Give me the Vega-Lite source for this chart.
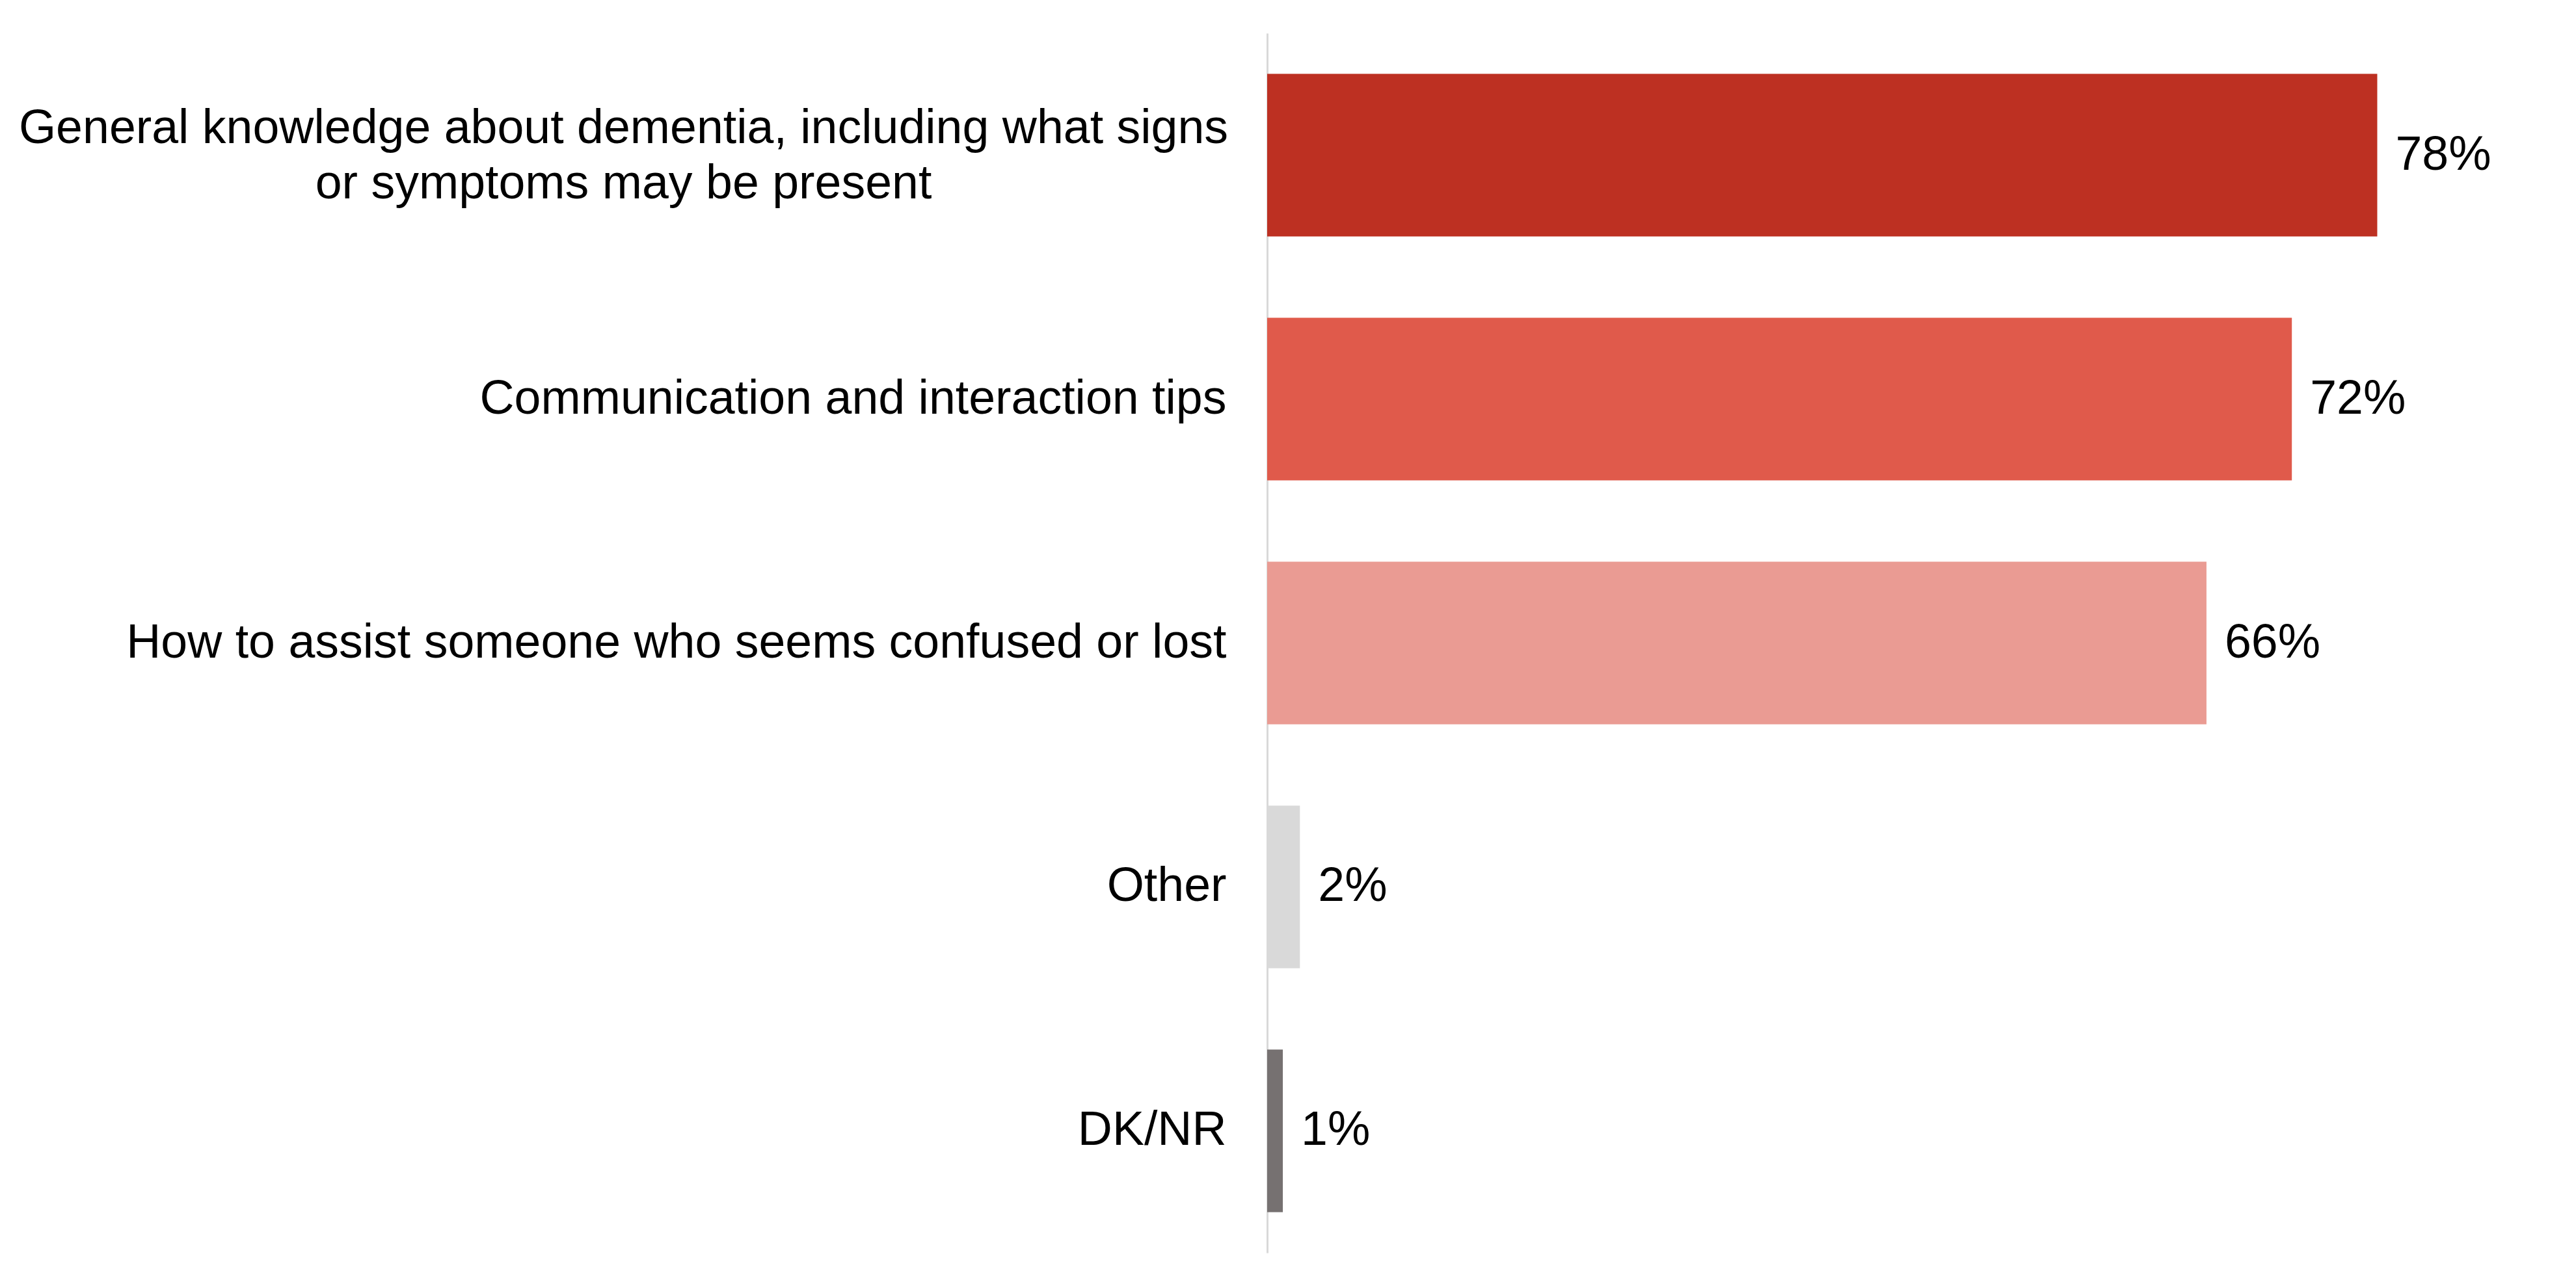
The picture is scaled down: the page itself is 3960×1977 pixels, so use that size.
{
  "$schema": "https://vega.github.io/schema/vega-lite/v6.json",
  "autosize": "none",
  "padding": {"left": 1948, "top": 51, "right": 43, "bottom": 51},
  "width": 1969,
  "height": 1875,
  "background": "white",
  "config": {"view": {"stroke": null}},
  "data": {
    "values": [
      {"item": "General knowledge about dementia, including what signs|or symptoms may be present", "pct": 0.78},
      {"item": "Communication and interaction tips", "pct": 0.72},
      {"item": "How to assist someone who seems confused or lost", "pct": 0.66},
      {"item": "Other", "pct": 0.023},
      {"item": "DK/NR", "pct": 0.011}
    ]
  },
  "encoding": {
    "y": {
      "field": "item",
      "type": "nominal",
      "sort": null,
      "scale": {"paddingInner": 0.333, "paddingOuter": 0.1667},
      "axis": {
        "title": null,
        "ticks": false,
        "domain": true,
        "domainColor": "#D9D9D9",
        "domainWidth": 3,
        "labelFont": "Liberation Sans",
        "labelFontSize": 73.5,
        "labelColor": "#000000",
        "labelLimit": 0,
        "labelOverlap": false,
        "labelBound": false,
        "labelLineHeight": 85,
        "labelExpr": "split(datum.value, '|')",
        "labelAlign": {"condition": {"test": "indexof(datum.value, '|') >= 0", "value": "center"}, "value": "right"},
        "labelOffset": {"condition": {"test": "indexof(datum.value, '|') >= 0", "value": -41}, "value": 0},
        "labelPadding": {"condition": {"test": "indexof(datum.value, '|') >= 0", "value": 990}, "value": 63}
      }
    },
    "x": {
      "field": "pct",
      "type": "quantitative",
      "scale": {"domain": [0, 0.9], "nice": false},
      "axis": null
    }
  },
  "layer": [
    {
      "mark": {"type": "bar"},
      "encoding": {
        "color": {
          "field": "item",
          "type": "nominal",
          "legend": null,
          "scale": {
            "domain": [
              "General knowledge about dementia, including what signs|or symptoms may be present",
              "Communication and interaction tips",
              "How to assist someone who seems confused or lost",
              "Other",
              "DK/NR"
            ],
            "range": ["#BD3022", "#E05A4B", "#EA9B93", "#D9D9D9", "#767171"]
          }
        }
      }
    },
    {
      "mark": {"type": "text", "align": "left", "baseline": "middle", "dx": 28, "font": "Liberation Sans", "fontSize": 73.5, "color": "#000000"},
      "encoding": {
        "text": {"field": "pct", "type": "quantitative", "format": ".0%"}
      }
    }
  ]
}
